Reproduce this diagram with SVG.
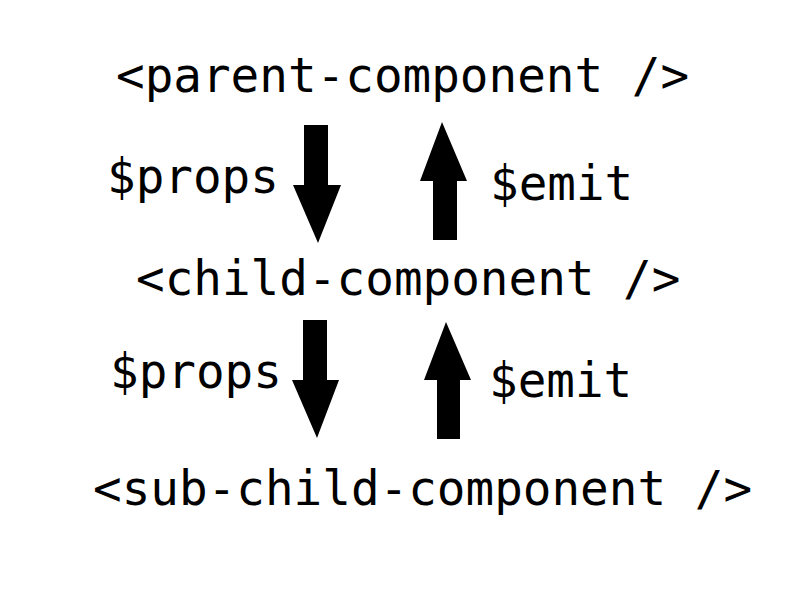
<svg xmlns="http://www.w3.org/2000/svg" width="800" height="600" viewBox="0 0 800 600">
<style>
text{font-family:"DejaVu Sans Mono","Liberation Mono",monospace;font-size:47.6px;fill:#000}
.arrow{fill:#000}
</style>
<rect width="800" height="600" fill="#fff"/>
<g id="parent"><text x="116" y="92">&lt;parent-component /&gt;</text></g>
<g id="child"><text x="136" y="295">&lt;child-component /&gt;</text></g>
<g id="subchild"><text x="93" y="505">&lt;sub-child-component /&gt;</text></g>
<g id="connectors">
<g id="props1"><polygon class="arrow" points="304,125 328,125 328,185 341,185 318,243 293,185 304,185"/><text x="107" y="193">$props</text></g>
<g id="emit1"><polygon class="arrow" points="442,122 467,181 457,181 457,240 433,240 433,181 420,181"/><text x="490" y="200">$emit</text></g>
<g id="props2"><polygon class="arrow" points="303,320 327,320 327,380 339,380 317,438 292,380 303,380"/><text x="110" y="388">$props</text></g>
<g id="emit2"><polygon class="arrow" points="446,322 471,380 460,380 460,439 437,439 437,380 424,380"/><text x="489" y="397">$emit</text></g>
</g>
</svg>
